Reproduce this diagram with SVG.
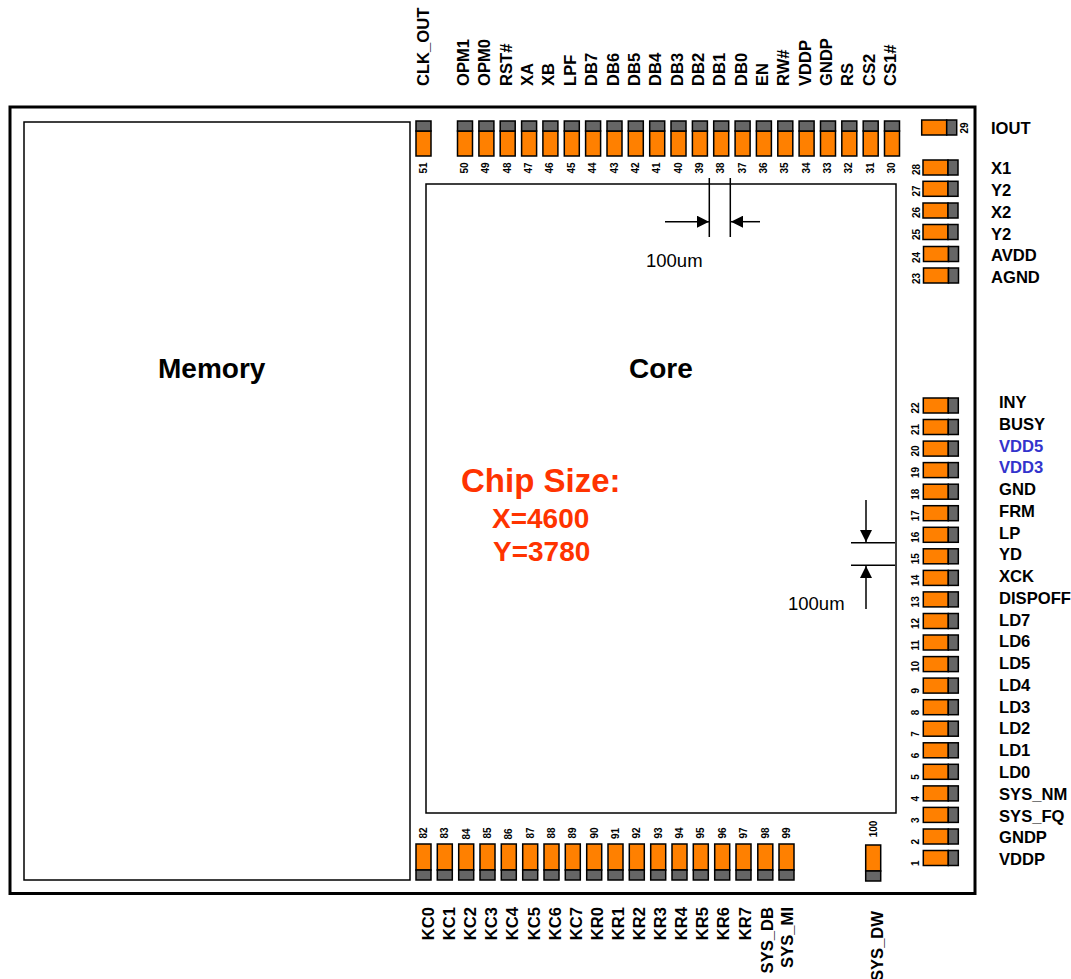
<svg xmlns="http://www.w3.org/2000/svg" xmlns:xlink="http://www.w3.org/1999/xlink" width="1071" height="979" viewBox="0 0 1071 979">
<style>
text{font-family:"Liberation Sans",Arial,sans-serif;fill:#000}
.sig{font-size:16.6px;font-weight:bold}
.num{font-size:10px;font-weight:bold}
.c{text-anchor:middle}
.e{text-anchor:end}
.blue{fill:#3333cc}
.big{font-size:28px;font-weight:bold}
.red{fill:#ff3300}
.dim{font-size:18.5px}
.o{fill:#ff8000;stroke:#000;stroke-width:1.5}
.g{fill:#666;stroke:#000;stroke-width:1.5}
.box{fill:#fff;stroke:#000;stroke-width:1.5}
.line{fill:none;stroke:#000;stroke-width:1.5}
</style>
<defs>
<g id="pt"><rect class="o" x="0" y="10" width="15" height="25"/><rect class="g" x="0" y="0" width="15" height="10"/></g>
<g id="pb"><rect class="o" x="0" y="0" width="15" height="26"/><rect class="g" x="0" y="26" width="15" height="10"/></g>
<g id="pr"><rect class="o" x="0" y="0" width="25" height="15"/><rect class="g" x="25" y="0" width="10" height="15"/></g>
<marker id="arrow" markerUnits="userSpaceOnUse" markerWidth="12" markerHeight="12" refX="12" refY="6" orient="auto"><path d="M0 0L12 6L0 12Z" fill="#000"/></marker>
</defs>
<rect width="1071" height="979" fill="#fff"/>
<rect id="chip" x="10" y="107" width="965" height="786.5" fill="#fff" stroke="#000" stroke-width="3"/>
<g id="memory"><rect class="box" x="24" y="122" width="386" height="758"/><text class="big" x="158" y="378">Memory</text></g>
<g id="core"><rect class="box" x="426" y="184" width="470" height="629"/><text class="big" x="629" y="378">Core</text></g>
<g id="chip-size">
<text class="red" x="461" y="492" style="font-size:33px;font-weight:bold">Chip Size:</text>
<text class="big red" x="492" y="528">X=4600</text>
<text class="big red" x="493" y="561">Y=3780</text>
</g>
<g id="connectors">
<path class="line" d="M709.3 178V237M730.3 178V237M851 542.7H895M851 565.3H895"/>
<path class="line" marker-end="url(#arrow)" d="M665 221.7H709"/>
<path class="line" marker-end="url(#arrow)" d="M760 221.7H731"/>
<path class="line" marker-end="url(#arrow)" d="M866 500V542"/>
<path class="line" marker-end="url(#arrow)" d="M866 609V566"/>
</g>
<text id="dim-x" class="dim" x="646" y="267">100um</text>
<text id="dim-y" class="dim" x="788" y="610">100um</text>

<g id="pad-51"><use xlink:href="#pt" x="416" y="121"/><text class="num c" transform="translate(427,168) rotate(-90)">51</text><text class="sig" transform="translate(429,86) rotate(-90)">CLK_OUT</text></g>
<g id="pad-50"><use xlink:href="#pt" x="457.5" y="121"/><text class="num c" transform="translate(468,168) rotate(-90)">50</text><text class="sig" transform="translate(469,86) rotate(-90)">OPM1</text></g>
<g id="pad-49"><use xlink:href="#pt" x="478.9" y="121"/><text class="num c" transform="translate(489.4,168) rotate(-90)">49</text><text class="sig" transform="translate(490.4,86) rotate(-90)">OPM0</text></g>
<g id="pad-48"><use xlink:href="#pt" x="500.2" y="121"/><text class="num c" transform="translate(510.7,168) rotate(-90)">48</text><text class="sig" transform="translate(511.7,86) rotate(-90)">RST#</text></g>
<g id="pad-47"><use xlink:href="#pt" x="521.6" y="121"/><text class="num c" transform="translate(532.1,168) rotate(-90)">47</text><text class="sig" transform="translate(533.1,86) rotate(-90)">XA</text></g>
<g id="pad-46"><use xlink:href="#pt" x="542.9" y="121"/><text class="num c" transform="translate(553.4,168) rotate(-90)">46</text><text class="sig" transform="translate(554.4,86) rotate(-90)">XB</text></g>
<g id="pad-45"><use xlink:href="#pt" x="564.3" y="121"/><text class="num c" transform="translate(574.8,168) rotate(-90)">45</text><text class="sig" transform="translate(575.8,86) rotate(-90)">LPF</text></g>
<g id="pad-44"><use xlink:href="#pt" x="585.6" y="121"/><text class="num c" transform="translate(596.1,168) rotate(-90)">44</text><text class="sig" transform="translate(597.1,86) rotate(-90)">DB7</text></g>
<g id="pad-43"><use xlink:href="#pt" x="607" y="121"/><text class="num c" transform="translate(617.5,168) rotate(-90)">43</text><text class="sig" transform="translate(618.5,86) rotate(-90)">DB6</text></g>
<g id="pad-42"><use xlink:href="#pt" x="628.3" y="121"/><text class="num c" transform="translate(638.8,168) rotate(-90)">42</text><text class="sig" transform="translate(639.8,86) rotate(-90)">DB5</text></g>
<g id="pad-41"><use xlink:href="#pt" x="649.7" y="121"/><text class="num c" transform="translate(660.2,168) rotate(-90)">41</text><text class="sig" transform="translate(661.2,86) rotate(-90)">DB4</text></g>
<g id="pad-40"><use xlink:href="#pt" x="671" y="121"/><text class="num c" transform="translate(681.5,168) rotate(-90)">40</text><text class="sig" transform="translate(682.5,86) rotate(-90)">DB3</text></g>
<g id="pad-39"><use xlink:href="#pt" x="692.4" y="121"/><text class="num c" transform="translate(702.9,168) rotate(-90)">39</text><text class="sig" transform="translate(703.9,86) rotate(-90)">DB2</text></g>
<g id="pad-38"><use xlink:href="#pt" x="713.7" y="121"/><text class="num c" transform="translate(724.2,168) rotate(-90)">38</text><text class="sig" transform="translate(725.2,86) rotate(-90)">DB1</text></g>
<g id="pad-37"><use xlink:href="#pt" x="735.1" y="121"/><text class="num c" transform="translate(745.6,168) rotate(-90)">37</text><text class="sig" transform="translate(746.6,86) rotate(-90)">DB0</text></g>
<g id="pad-36"><use xlink:href="#pt" x="756.4" y="121"/><text class="num c" transform="translate(766.9,168) rotate(-90)">36</text><text class="sig" transform="translate(767.9,86) rotate(-90)">EN</text></g>
<g id="pad-35"><use xlink:href="#pt" x="777.8" y="121"/><text class="num c" transform="translate(788.3,168) rotate(-90)">35</text><text class="sig" transform="translate(789.3,86) rotate(-90)">RW#</text></g>
<g id="pad-34"><use xlink:href="#pt" x="799.1" y="121"/><text class="num c" transform="translate(809.6,168) rotate(-90)">34</text><text class="sig" transform="translate(810.6,86) rotate(-90)">VDDP</text></g>
<g id="pad-33"><use xlink:href="#pt" x="820.5" y="121"/><text class="num c" transform="translate(831,168) rotate(-90)">33</text><text class="sig" transform="translate(832,86) rotate(-90)">GNDP</text></g>
<g id="pad-32"><use xlink:href="#pt" x="841.8" y="121"/><text class="num c" transform="translate(852.3,168) rotate(-90)">32</text><text class="sig" transform="translate(853.3,86) rotate(-90)">RS</text></g>
<g id="pad-31"><use xlink:href="#pt" x="863.2" y="121"/><text class="num c" transform="translate(873.7,168) rotate(-90)">31</text><text class="sig" transform="translate(874.7,86) rotate(-90)">CS2</text></g>
<g id="pad-30"><use xlink:href="#pt" x="884.5" y="121"/><text class="num c" transform="translate(895,168) rotate(-90)">30</text><text class="sig" transform="translate(896,86) rotate(-90)">CS1#</text></g>

<g id="pad-29"><use xlink:href="#pr" x="921.7" y="120"/><text class="num c" transform="translate(968,128) rotate(-90)">29</text><text class="sig" x="991" y="134">IOUT</text></g>
<g id="pad-28"><use xlink:href="#pr" x="923" y="160"/><text class="num" transform="translate(919.5,175) rotate(-90)">28</text><text class="sig" x="991" y="174">X1</text></g>
<g id="pad-27"><use xlink:href="#pr" x="923" y="181.3"/><text class="num" transform="translate(919.5,196.5) rotate(-90)">27</text><text class="sig" x="991" y="196">Y2</text></g>
<g id="pad-26"><use xlink:href="#pr" x="923" y="203"/><text class="num" transform="translate(919.5,218) rotate(-90)">26</text><text class="sig" x="991" y="218">X2</text></g>
<g id="pad-25"><use xlink:href="#pr" x="923" y="224.5"/><text class="num" transform="translate(919.5,240) rotate(-90)">25</text><text class="sig" x="991" y="239.5">Y2</text></g>
<g id="pad-24"><use xlink:href="#pr" x="923.5" y="246.5"/><text class="num" transform="translate(919.5,263) rotate(-90)">24</text><text class="sig" x="991" y="261">AVDD</text></g>
<g id="pad-23"><use xlink:href="#pr" x="923.5" y="268"/><text class="num" transform="translate(919.5,284) rotate(-90)">23</text><text class="sig" x="991" y="283">AGND</text></g>

<g id="pad-22"><use xlink:href="#pr" x="923.3" y="398"/><text class="num" transform="translate(919,413.5) rotate(-90)">22</text><text class="sig" x="999" y="408">INY</text></g>
<g id="pad-21"><use xlink:href="#pr" x="923.3" y="419.5"/><text class="num" transform="translate(919,435) rotate(-90)">21</text><text class="sig" x="999" y="429.8">BUSY</text></g>
<g id="pad-20"><use xlink:href="#pr" x="923.3" y="441.1"/><text class="num" transform="translate(919,456.6) rotate(-90)">20</text><text class="sig blue" x="999" y="451.6">VDD5</text></g>
<g id="pad-19"><use xlink:href="#pr" x="923.3" y="462.6"/><text class="num" transform="translate(919,478.1) rotate(-90)">19</text><text class="sig blue" x="999" y="473.3">VDD3</text></g>
<g id="pad-18"><use xlink:href="#pr" x="923.3" y="484.2"/><text class="num" transform="translate(919,499.7) rotate(-90)">18</text><text class="sig" x="999" y="495.1">GND</text></g>
<g id="pad-17"><use xlink:href="#pr" x="923.3" y="505.7"/><text class="num" transform="translate(919,521.2) rotate(-90)">17</text><text class="sig" x="999" y="516.8">FRM</text></g>
<g id="pad-16"><use xlink:href="#pr" x="923.3" y="527.3"/><text class="num" transform="translate(919,542.8) rotate(-90)">16</text><text class="sig" x="999" y="538.6">LP</text></g>
<g id="pad-15"><use xlink:href="#pr" x="923.3" y="548.8"/><text class="num" transform="translate(919,564.3) rotate(-90)">15</text><text class="sig" x="999" y="560.4">YD</text></g>
<g id="pad-14"><use xlink:href="#pr" x="923.3" y="570.4"/><text class="num" transform="translate(919,585.9) rotate(-90)">14</text><text class="sig" x="999" y="582.1">XCK</text></g>
<g id="pad-13"><use xlink:href="#pr" x="923.3" y="591.9"/><text class="num" transform="translate(919,607.4) rotate(-90)">13</text><text class="sig" x="999" y="603.9">DISPOFF</text></g>
<g id="pad-12"><use xlink:href="#pr" x="923.3" y="613.5"/><text class="num" transform="translate(919,629) rotate(-90)">12</text><text class="sig" x="999" y="625.6">LD7</text></g>
<g id="pad-11"><use xlink:href="#pr" x="923.3" y="635"/><text class="num" transform="translate(919,650.5) rotate(-90)">11</text><text class="sig" x="999" y="647.4">LD6</text></g>
<g id="pad-10"><use xlink:href="#pr" x="923.3" y="656.6"/><text class="num" transform="translate(919,672.1) rotate(-90)">10</text><text class="sig" x="999" y="669.2">LD5</text></g>
<g id="pad-9"><use xlink:href="#pr" x="923.3" y="678.1"/><text class="num" transform="translate(919,693.6) rotate(-90)">9</text><text class="sig" x="999" y="690.9">LD4</text></g>
<g id="pad-8"><use xlink:href="#pr" x="923.3" y="699.7"/><text class="num" transform="translate(919,715.2) rotate(-90)">8</text><text class="sig" x="999" y="712.7">LD3</text></g>
<g id="pad-7"><use xlink:href="#pr" x="923.3" y="721.2"/><text class="num" transform="translate(919,736.7) rotate(-90)">7</text><text class="sig" x="999" y="734.4">LD2</text></g>
<g id="pad-6"><use xlink:href="#pr" x="923.3" y="742.8"/><text class="num" transform="translate(919,758.3) rotate(-90)">6</text><text class="sig" x="999" y="756.2">LD1</text></g>
<g id="pad-5"><use xlink:href="#pr" x="923.3" y="764.3"/><text class="num" transform="translate(919,779.8) rotate(-90)">5</text><text class="sig" x="999" y="778">LD0</text></g>
<g id="pad-4"><use xlink:href="#pr" x="923.3" y="785.9"/><text class="num" transform="translate(919,801.4) rotate(-90)">4</text><text class="sig" x="999" y="799.7">SYS_NM</text></g>
<g id="pad-3"><use xlink:href="#pr" x="923.3" y="807.4"/><text class="num" transform="translate(919,822.9) rotate(-90)">3</text><text class="sig" x="999" y="821.5">SYS_FQ</text></g>
<g id="pad-2"><use xlink:href="#pr" x="923.3" y="829"/><text class="num" transform="translate(919,844.5) rotate(-90)">2</text><text class="sig" x="999" y="843.2">GNDP</text></g>
<g id="pad-1"><use xlink:href="#pr" x="923.3" y="850.5"/><text class="num" transform="translate(919,866) rotate(-90)">1</text><text class="sig" x="999" y="865">VDDP</text></g>

<g id="pad-82"><use xlink:href="#pb" x="416" y="844"/><text class="num c" transform="translate(427,833) rotate(-90)">82</text><text class="sig e" transform="translate(434,907) rotate(-90)">KC0</text></g>
<g id="pad-83"><use xlink:href="#pb" x="437.3" y="844"/><text class="num c" transform="translate(448.3,833) rotate(-90)">83</text><text class="sig e" transform="translate(455.1,907) rotate(-90)">KC1</text></g>
<g id="pad-84"><use xlink:href="#pb" x="458.7" y="844"/><text class="num c" transform="translate(469.7,834) rotate(-90)">84</text><text class="sig e" transform="translate(476.2,907) rotate(-90)">KC2</text></g>
<g id="pad-85"><use xlink:href="#pb" x="480" y="844"/><text class="num c" transform="translate(491,833) rotate(-90)">85</text><text class="sig e" transform="translate(497.3,907) rotate(-90)">KC3</text></g>
<g id="pad-86"><use xlink:href="#pb" x="501.3" y="844"/><text class="num c" transform="translate(512.3,834) rotate(-90)">86</text><text class="sig e" transform="translate(518.4,907) rotate(-90)">KC4</text></g>
<g id="pad-87"><use xlink:href="#pb" x="522.7" y="844"/><text class="num c" transform="translate(533.7,833) rotate(-90)">87</text><text class="sig e" transform="translate(539.5,907) rotate(-90)">KC5</text></g>
<g id="pad-88"><use xlink:href="#pb" x="544" y="844"/><text class="num c" transform="translate(555,833) rotate(-90)">88</text><text class="sig e" transform="translate(560.6,907) rotate(-90)">KC6</text></g>
<g id="pad-89"><use xlink:href="#pb" x="565.3" y="844"/><text class="num c" transform="translate(576.3,833) rotate(-90)">89</text><text class="sig e" transform="translate(581.7,907) rotate(-90)">KC7</text></g>
<g id="pad-90"><use xlink:href="#pb" x="586.7" y="844"/><text class="num c" transform="translate(597.7,833) rotate(-90)">90</text><text class="sig e" transform="translate(602.8,907) rotate(-90)">KR0</text></g>
<g id="pad-91"><use xlink:href="#pb" x="608" y="844"/><text class="num c" transform="translate(619,833.5) rotate(-90)">91</text><text class="sig e" transform="translate(623.9,907) rotate(-90)">KR1</text></g>
<g id="pad-92"><use xlink:href="#pb" x="629.3" y="844"/><text class="num c" transform="translate(640.3,833) rotate(-90)">92</text><text class="sig e" transform="translate(645,907) rotate(-90)">KR2</text></g>
<g id="pad-93"><use xlink:href="#pb" x="650.7" y="844"/><text class="num c" transform="translate(661.7,833) rotate(-90)">93</text><text class="sig e" transform="translate(666.1,907) rotate(-90)">KR3</text></g>
<g id="pad-94"><use xlink:href="#pb" x="672" y="844"/><text class="num c" transform="translate(683,833) rotate(-90)">94</text><text class="sig e" transform="translate(687.2,907) rotate(-90)">KR4</text></g>
<g id="pad-95"><use xlink:href="#pb" x="693.3" y="844"/><text class="num c" transform="translate(704.3,833) rotate(-90)">95</text><text class="sig e" transform="translate(708.3,907) rotate(-90)">KR5</text></g>
<g id="pad-96"><use xlink:href="#pb" x="714.7" y="844"/><text class="num c" transform="translate(725.7,833) rotate(-90)">96</text><text class="sig e" transform="translate(729.4,907) rotate(-90)">KR6</text></g>
<g id="pad-97"><use xlink:href="#pb" x="736" y="844"/><text class="num c" transform="translate(747,833) rotate(-90)">97</text><text class="sig e" transform="translate(750.5,907) rotate(-90)">KR7</text></g>
<g id="pad-98"><use xlink:href="#pb" x="757.8" y="844"/><text class="num c" transform="translate(768.8,833) rotate(-90)">98</text><text class="sig e" transform="translate(773.3,907) rotate(-90)">SYS_DB</text></g>
<g id="pad-99"><use xlink:href="#pb" x="779" y="844"/><text class="num c" transform="translate(790,833) rotate(-90)">99</text><text class="sig e" transform="translate(793.3,907) rotate(-90)">SYS_MI</text></g>
<g id="pad-100"><use xlink:href="#pb" x="865.7" y="845"/><text class="num c" transform="translate(876.7,829) rotate(-90)">100</text><text class="sig e" transform="translate(883,911) rotate(-90)">SYS_DW</text></g>
</svg>
